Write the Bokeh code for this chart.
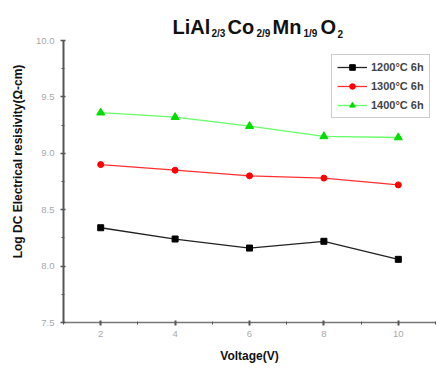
from bokeh.plotting import figure
from bokeh.models import FixedTicker, Label, Legend, LegendItem, Range1d, PrintfTickFormatter
from bokeh.embed import file_html
from bokeh.resources import INLINE

voltage = [2, 4, 6, 8, 10]
res_1200 = [8.34, 8.24, 8.16, 8.22, 8.06]
res_1300 = [8.90, 8.85, 8.80, 8.78, 8.72]
res_1400 = [9.36, 9.32, 9.24, 9.15, 9.14]
series_names = ["1200\u00b0C 6h", "1300\u00b0C 6h", "1400\u00b0C 6h"]
x_ticks = [2, 4, 6, 8, 10]
x_minor = [1, 3, 5, 7, 9, 11]
y_ticks = [7.5, 8.0, 8.5, 9.0, 9.5, 10.0]
y_minor = [7.75, 8.25, 8.75, 9.25, 9.75]

W, H = 438, 370
# frame spans page pixels x 63..435, y 0..322; y 10.0 sits at y=40
px_per_unit = (322 - 40) / (y_ticks[-1] - y_ticks[0])
y_top = y_ticks[-1] + 40 / px_per_unit

p = figure(width=W, height=H, output_backend="svg", toolbar_location=None,
           x_range=Range1d(1, 11), y_range=Range1d(7.5, y_top),
           min_border_left=63, min_border_right=3, min_border_top=0, min_border_bottom=48)
p.outline_line_color = None
p.xgrid.visible = False
p.ygrid.visible = False
p.background_fill_color = "white"
p.border_fill_color = "white"

for ax, ticks, minor in ((p.xaxis[0], x_ticks, x_minor), (p.yaxis[0], y_ticks, y_minor)):
    ax.ticker = FixedTicker(ticks=ticks, minor_ticks=minor)
    ax.major_label_text_font = "Liberation Sans"
    ax.major_label_text_font_size = "9.5px"
    ax.major_label_text_color = "#a8a8a8"
    ax.axis_label_text_font = "Liberation Sans"
    ax.axis_label_text_font_style = "bold"
    ax.axis_label_text_font_size = "12px"
    ax.axis_label_text_color = "#111111"
    ax.major_tick_in = 2
    ax.major_tick_out = 3
    ax.minor_tick_in = 1
    ax.minor_tick_out = 2

p.yaxis.bounds = (7.5, 10.0)
p.yaxis.formatter = PrintfTickFormatter(format="%.1f")
p.yaxis.axis_line_width = 2
p.yaxis.axis_line_color = "#555555"
p.yaxis.major_tick_line_color = "#555555"
p.yaxis.minor_tick_line_color = "#555555"
p.yaxis.major_tick_line_width = 1.5
p.xaxis.axis_line_width = 1.5
p.xaxis.axis_line_color = "#777777"
p.xaxis.major_tick_line_color = "#555555"
p.xaxis.major_tick_line_width = 2
p.xaxis.minor_tick_line_color = "#555555"
p.xaxis.axis_label = "Voltage(V)"
p.yaxis.axis_label = "Log DC Electrical resisivity(\u03a9-cm)"
p.yaxis.major_label_standoff = 6
p.xaxis.major_label_standoff = 5
p.yaxis.axis_label_standoff = 8
p.xaxis.axis_label_standoff = 9

l1 = p.line(voltage, res_1200, line_color="#222222", line_width=1.3)
m1 = p.scatter(voltage, res_1200, marker="square", size=6, fill_color="black", line_color="black")
l2 = p.line(voltage, res_1300, line_color="#ff3030", line_width=1.3)
m2 = p.scatter(voltage, res_1300, marker="circle", size=6, fill_color="#ff0000", line_color="#ff0000")
l3 = p.line(voltage, res_1400, line_color="#66ff66", line_width=1.3)
m3 = p.scatter(voltage, res_1400, marker="triangle", size=8, fill_color="#00dd00", line_color="#00dd00")

legend = Legend(items=[LegendItem(label=series_names[0], renderers=[l1, m1]),
                       LegendItem(label=series_names[1], renderers=[l2, m2]),
                       LegendItem(label=series_names[2], renderers=[l3, m3])],
                location=(268, 204))
legend.label_text_font = "Liberation Sans"
legend.label_text_font_style = "bold"
legend.label_text_font_size = "11px"
legend.glyph_width = 30
legend.glyph_height = 14
legend.label_height = 14
legend.label_standoff = 4
legend.spacing = 5
legend.padding = 5
legend.margin = 0
legend.border_line_color = "#999999"
legend.border_line_width = 1
p.add_layout(legend, "center")

def fx(x):
    return x - 63

def fy(y):
    return 322 - y

title_parts = [
    ("LiAl", 172, 26, "20px"),
    ("2/3", 211, 33, "10px"),
    ("Co", 227, 26, "20px"),
    ("2/9", 256, 33, "10px"),
    ("Mn", 272, 26, "20px"),
    ("1/9", 303, 33, "10px"),
    ("O", 320, 26, "20px"),
    ("2", 337, 33, "10px"),
]
for txt, xs, ys, fs in title_parts:
    p.add_layout(Label(x=fx(xs), y=fy(ys), x_units="screen", y_units="screen", text=txt,
                       text_font="Liberation Sans", text_font_style="bold", text_font_size=fs,
                       text_baseline="alphabetic", text_align="left", text_color="#111111"))

open("out.html", "w").write(file_html(p, INLINE))
